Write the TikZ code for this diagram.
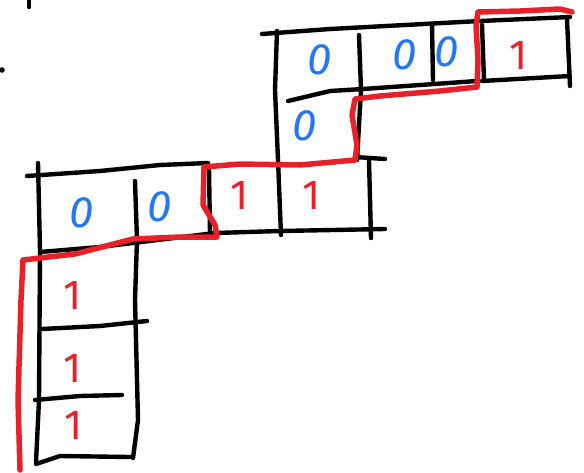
\documentclass[tikz,border=0pt]{standalone}
\usepackage{fontspec}
\setmainfont{Fira Sans}
\definecolor{penblue}{HTML}{2277F5}
\definecolor{penred}{HTML}{E8202A}
\tikzset{
  ink/.style={draw=black, line width=4.4pt, line cap=round, line join=round},
  redink/.style={draw=penred, line width=5.5pt, line cap=round, line join=round},
  zero/.style={text=penblue, font=\fontsize{44}{44}\selectfont\itshape, inner sep=0pt},
  one/.style={text=penred, font=\fontsize{42}{42}\selectfont, inner sep=0pt}
}
\begin{document}
\begin{tikzpicture}[x=1pt,y=-1pt]
\useasboundingbox (0,0) rectangle (584,472);
% stray marks
\draw[ink] (29,0) -- (29,7);
\fill (2,70) circle (2.8pt);
% ---- left block ----
\draw[ink] (27,176) -- (100,171) -- (160,165) -- (208,163);
\draw[ink] (38,163) -- (40,250) -- (39,400) -- (36,462);
\draw[ink] (135,181) -- (137,240) -- (135,300) -- (138,420) -- (133,458);
\draw[ink] (40,252) -- (100,247) -- (215,233) -- (280,231) -- (385,229);
\draw[ink] (42,329) -- (100,326) -- (147,321);
\draw[ink] (35,400) -- (80,396) -- (122,395);
\draw[ink] (36,464) -- (60,456) -- (130,457);
\draw[ink] (209,168) -- (210,233);
% ---- middle ----
\draw[ink] (277,31) -- (275,90) -- (278,160) -- (281,235);
\draw[ink] (369,160) -- (371,238);
\draw[ink] (355,157) -- (385,159);
% ---- top block ----
\draw[ink] (262,34) -- (330,29) -- (480,21) -- (570,17);
\draw[ink] (288,101) -- (330,91) -- (363,89) -- (477,81);
\draw[ink] (482,81) -- (570,76);
\draw[ink] (359,35) -- (361,90) -- (357,160);
\draw[ink] (432,24) -- (433,80);
\draw[ink] (482,25) -- (484,80);
\draw[ink] (567,19) -- (570,86);
% ---- red outline ----
\draw[redink] (20,470) -- (18,400) -- (21,300) -- (23,260) -- (40,258) -- (75,254)
  -- (133,239) -- (180,237) -- (217,237) -- (215,225) -- (203,205) -- (204,167)
  -- (240,164) -- (300,165) -- (355,160) -- (357,145) -- (352,115) -- (355,99)
  -- (380,96) -- (440,91) -- (477,87) -- (478,60) -- (476,25) -- (478,12)
  -- (520,11) -- (560,9) -- (572,12);
% ---- digits ----
\node[zero] (z1) at (82,213) {0};
\node[zero] (z2) at (160,207) {0};
\node[zero] (z3) at (320,60) {0};
\node[zero] (z4) at (405,55) {0};
\node[zero] (z5) at (447,52) {0};
\node[zero] (z6) at (305,126) {0};
\node[one] (o1) at (240,195) {1};
\node[one] (o2) at (312,195) {1};
\node[one] (o3) at (519,55) {1};
\node[one] (o4) at (73,295) {1};
\node[one] (o5) at (73,368) {1};
\node[one] (o6) at (74,425) {1};
\end{tikzpicture}
\end{document}
